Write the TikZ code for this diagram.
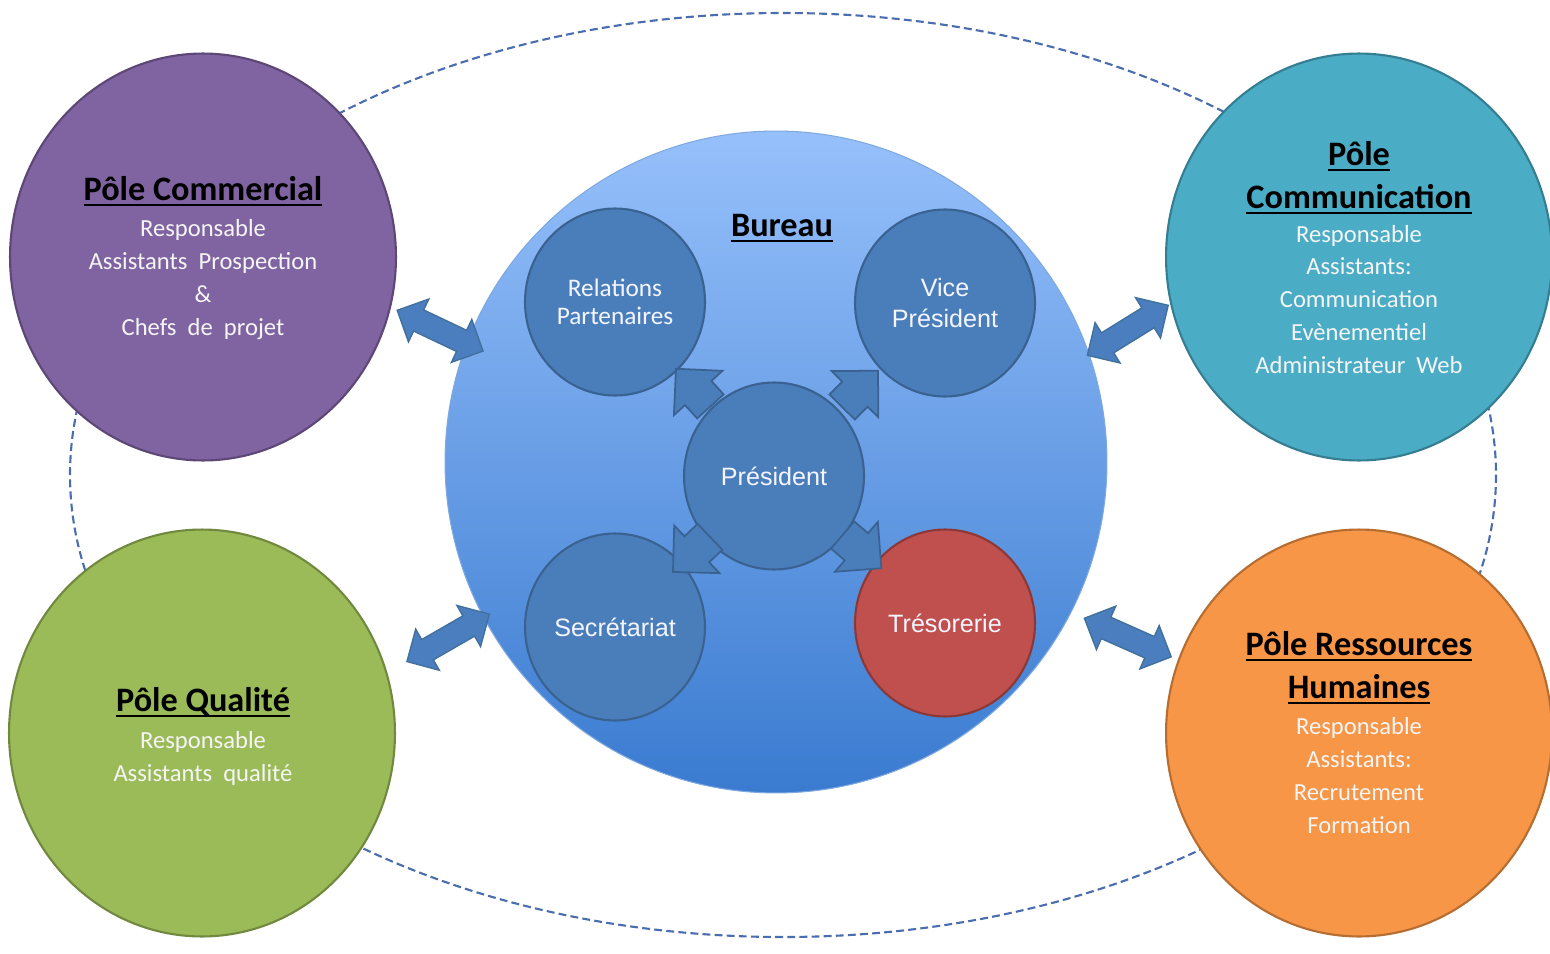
\documentclass[tikz,border=0pt]{standalone}
\usepackage{fontspec}
\setmainfont{Carlito}
\newfontfamily\arialfont{Liberation Sans}
\usetikzlibrary{positioning,shapes.geometric,shapes.arrows}
\definecolor{commfill}{HTML}{8064A2}
\definecolor{commline}{HTML}{5C4776}
\definecolor{comfill}{HTML}{4BACC6}
\definecolor{comline}{HTML}{357D91}
\definecolor{qualfill}{HTML}{9BBB59}
\definecolor{qualline}{HTML}{71893F}
\definecolor{rhfill}{HTML}{F79646}
\definecolor{rhline}{HTML}{B66D31}
\definecolor{bureautop}{HTML}{96C0FB}
\definecolor{bureaubot}{HTML}{3A7BD0}
\definecolor{bureauline}{HTML}{7FA9DE}
\definecolor{memberfill}{HTML}{4A7EBB}
\definecolor{memberline}{HTML}{3A6290}
\definecolor{tresofill}{HTML}{C0504D}
\definecolor{tresoline}{HTML}{8C3836}
\definecolor{linkfill}{HTML}{4A7EBF}
\definecolor{linkline}{HTML}{41719C}
\definecolor{orbitcol}{HTML}{4A6DAF}
\newcommand\ultitle[1]{\setbox0\hbox{#1}\rlap{\rule[-3.6pt]{\wd0}{1.2pt}}\box0}

\begin{document}
\begin{tikzpicture}[x=0.02cm, y=-0.02cm,
  pole/.style={ellipse, line width=1.2pt, minimum width=7.72cm, minimum height=8.14cm, inner sep=0pt},
  poletitle/.style={anchor=base, align=center, inner sep=0pt, text=black,
    font=\fontsize{19.5}{24.4}\selectfont\bfseries},
  polebody/.style={anchor=base, align=center, inner sep=0pt, text=white!96!black,
    font=\fontsize{14}{18.6}\selectfont},
  member/.style={ellipse, draw=memberline, fill=memberfill, line width=1.2pt, minimum width=3.6cm,
    minimum height=3.74cm, inner sep=0pt, align=center, text=white!96!blue},
  arial/.style={font=\arialfont\fontsize{14.3}{18}\selectfont},
  pointer/.style={single arrow, draw=memberline, fill=memberfill, line width=1pt, single arrow tip angle=90,
    single arrow head extend=0.3cm, inner xsep=0pt, inner ysep=0.34cm, minimum height=1.02cm,
    sloped, allow upside down},
  link/.style={double arrow, draw=linkline, fill=linkfill, line width=0.8pt, double arrow tip angle=90,
    double arrow head extend=0.24cm, inner xsep=0pt, inner ysep=0.22cm, minimum height=1.9cm,
    sloped, allow upside down},
  orbit/.style={draw=orbitcol, line width=1.2pt, dash pattern=on 4.5pt off 2.4pt}]

  \useasboundingbox[fill=white] (0,0) rectangle (1550,953);
  \draw[orbit] (783,475) ellipse [x radius=713, y radius=462];

  \node[pole, draw=commline, fill=commfill] (commercial) at (203,257) {};
  \node[pole, draw=comline, fill=comfill] (communication) at (1359,257) {};
  \node[pole, draw=qualline, fill=qualfill] (qualite) at (202,733) {};
  \node[pole, draw=rhline, fill=rhfill] (rh) at (1359,733) {};
  \node[circle, draw=bureauline, line width=0.6pt, top color=bureautop, bottom color=bureaubot,
    minimum size=13.24cm, inner sep=0pt] (bureau) at (776,462) {};

  \node[poletitle] (commercialT) at (203,200) {\ultitle{Pôle Commercial}};
  \node[polebody] (commercialB) at (203,335) {Responsable\\Assistants~ Prospection\\\&\\Chefs~ de~ projet};
  \node[poletitle] (communicationT) at (1359,208) {\ultitle{Pôle}\\\ultitle{Communication}};
  \node[polebody] (communicationB) at (1359,373)
    {Responsable\\Assistants:\\Communication\\Evènementiel\\Administrateur~ Web};
  \node[poletitle] (qualiteT) at (203,711) {\ultitle{Pôle Qualité}};
  \node[polebody] (qualiteB) at (203,781) {Responsable\\Assistants~ qualité};
  \node[poletitle] (rhT) at (1359,698) {\ultitle{Pôle Ressources}\\\ultitle{Humaines}};
  \node[polebody] (rhB) at (1359,833) {Responsable\\Assistants:\\Recrutement\\Formation};
  \node[poletitle] (bureauT) at (782,236) {\ultitle{Bureau}};

  \node[member, font=\fontsize{14.4}{15.7}\selectfont] (relations) at (615,302) {Relations\\Partenaires};
  \node[member, arial] (vice) at (945,303) {Vice\\Président};
  \node[member, arial] (president) at (774,476) {Président};
  \node[member, arial] (secretariat) at (615,627) {Secrétariat};
  \node[member, arial, draw=tresoline, fill=tresofill] (tresorerie) at (945,623) {Trésorerie};

  \path (president) -- node[pointer, pos=0.36] (toRelations) {} (relations);
  \path (president) -- node[pointer, pos=0.36] (toVice) {} (vice);
  \path (president) -- node[pointer, pos=0.36] (toSecretariat) {} (secretariat);
  \path (president) -- node[pointer, pos=0.36] (toTresorerie) {} (tresorerie);

  \path (commercial.-15) -- node[link, pos=0.65] (linkCommercial) {} (bureau.159);
  \path (bureau.19) -- node[link, pos=0.475] (linkCommunication) {} (communication.194);
  \path (qualite.18) -- node[link, pos=0.633] (linkQualite) {} (bureau.208);
  \path (bureau.-27) -- node[link, pos=0.53] (linkRH) {} (rh.158);
\end{tikzpicture}
\end{document}
